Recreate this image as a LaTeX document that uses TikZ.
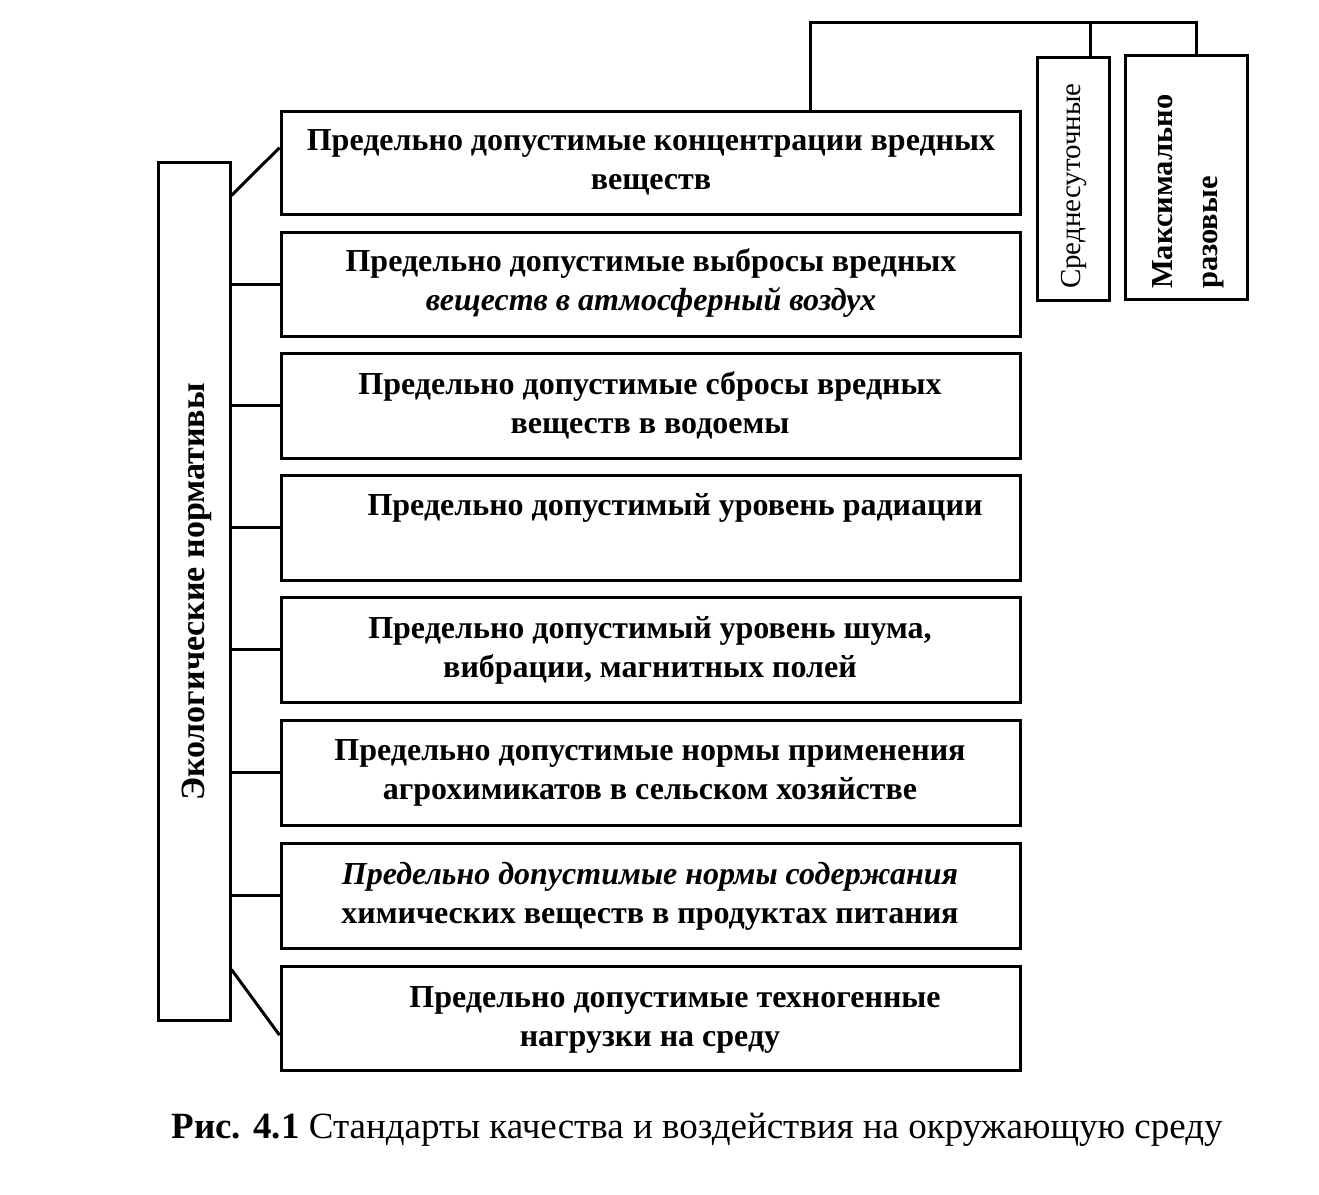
\documentclass[tikz,border=0pt]{standalone}
\usepackage{fontspec}
\setmainfont{Liberation Serif}
\usetikzlibrary{calc}
\tikzset{
  box/.style={draw, line width=3pt, rectangle, inner sep=0pt},
  conn/.style={line width=3pt},
  txt/.style={font=\bfseries\fontsize{32}{39}\selectfont, align=center, inner sep=0pt},
  vtxt/.style={rotate=90, inner sep=0pt, align=left},
}
\begin{document}
\begin{tikzpicture}[x=1pt,y=-1pt]
\useasboundingbox[fill=white] (0,0) rectangle (1319,1194);
% left vertical box
\node[box, minimum width=72pt, minimum height=858pt] (v) at (194,591) {};
\node[vtxt, font=\bfseries\fontsize{34}{40}\selectfont] (vt) at (197,592) {Экологические нормативы};
% right boxes
\node[box, minimum width=739pt, minimum height=103pt] (b1) at (650.5,162.5) {};
\node[box, minimum width=739pt, minimum height=104pt] (b2) at (650.5,284) {};
\node[box, minimum width=739pt, minimum height=105pt] (b3) at (650.5,405.5) {};
\node[box, minimum width=739pt, minimum height=105pt] (b4) at (650.5,527.5) {};
\node[box, minimum width=739pt, minimum height=105pt] (b5) at (650.5,649.5) {};
\node[box, minimum width=739pt, minimum height=105pt] (b6) at (650.5,772.5) {};
\node[box, minimum width=739pt, minimum height=105pt] (b7) at (650.5,895.5) {};
\node[box, minimum width=739pt, minimum height=104pt] (b8) at (650.5,1018) {};
% texts
\node[txt] (t1) at (651,162) {Предельно допустимые концентрации вредных\\веществ};
\node[txt] (t2) at (651,283) {Предельно допустимые выбросы вредных\\\textit{веществ в атмосферный воздух}};
\node[txt] (t3) at (650,405) {Предельно допустимые сбросы вредных\\веществ в водоемы};
\node[txt] (t4) at (675,508) {Предельно допустимый уровень радиации};
\node[txt] (t5) at (650,650) {Предельно допустимый уровень шума,\\вибрации, магнитных полей};
\node[txt] (t6) at (650,773) {Предельно допустимые нормы применения\\агрохимикатов в сельском хозяйстве};
\node[txt] (t7) at (650,896) {\textit{Предельно допустимые нормы содержания}\\химических веществ в продуктах питания};
\node[txt] (t8a) at (675,1000) {Предельно допустимые техногенные};
\node[txt] (t8b) at (650,1042) {нагрузки на среду};
% top boxes
\node[box, minimum width=72pt, minimum height=243pt] (s) at (1073,178.5) {};
\node[box, minimum width=122pt, minimum height=244pt] (m) at (1186,177) {};
\node[vtxt, font=\fontsize{29}{34}\selectfont] (st) at (1074,186) {Среднесуточные};
\node[vtxt, font=\bfseries\fontsize{30.5}{45}\selectfont, anchor=west] (mt) at (1188,289) {Максимально\\разовые};
% connectors
\draw[conn] ($(v.north east)+(0,35)$) -- ($(b1.north west)!0.36!(b1.south west)$);
\foreach \i in {2,...,7}{
  \draw[conn] (v.east |- b\i.west) -- (b\i.west);
}
\draw[conn] ($(v.south east)+(0,-52)$) -- ($(b8.north west)!0.66!(b8.south west)$);
\coordinate (ja) at (810,22);
\coordinate (jb) at (1196,22);
\coordinate (jc) at (1090,22);
\draw[conn] (b1.north -| ja) -- (ja) -- (jb) -- (m.north -| jb);
\draw[conn] (jc) -- (s.north -| jc);
% caption
\node[font=\fontsize{37}{42}\selectfont, inner sep=0pt] (cap) at (697,1130) {\textbf{Рис. 4.1} Стандарты качества и воздействия на окружающую среду};
\end{tikzpicture}
\end{document}
